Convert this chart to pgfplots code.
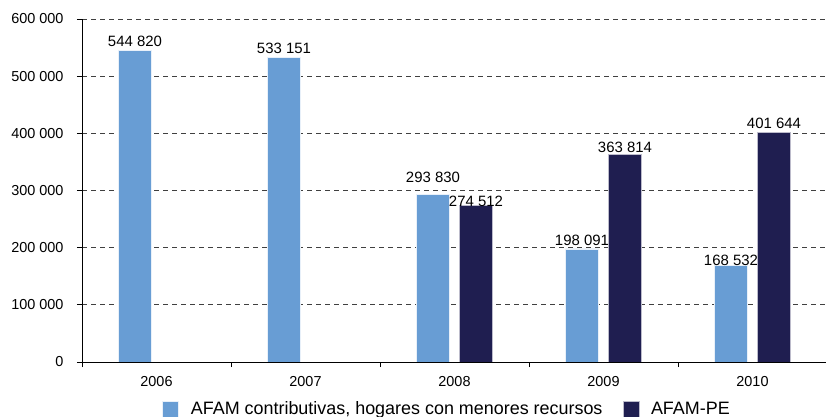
\documentclass[border=0pt]{standalone}
\usepackage{fontspec}
\setmainfont{Liberation Sans}
\usepackage{pgfplots}
\pgfplotsset{compat=1.18}
\usepackage{pgfplotstable}
\definecolor{afamc}{HTML}{689DD4}
\definecolor{afampe}{HTML}{1F1E50}

% x = category index (2006..2010), dy = nudge of the value label
\pgfplotstableread{
x y dy
0 544820 0
1 533151 0
2 293830 7.5
3 198091 -0.5
4 168532 -3.8
}\contrib
\pgfplotstableread{
x y dy
2 274512 -5.5
3 363814 -2
4 401644 0.5
}\afampe

\begin{document}
\begin{tikzpicture}
\path[use as bounding box] (0,0) rectangle (826bp,417bp);
\begin{axis}[
  at={(82bp,55bp)}, anchor=south west,
  scale only axis, width=745bp, height=343bp,
  xmin=-0.5, xmax=4.5, ymin=0, ymax=600000,
  ybar=10bp, bar width=33bp,
  axis x line=bottom, axis y line=left,
  axis line style={-, line width=1bp},
  tick align=outside, major tick length=5bp,
  tick style={black, line width=0.8bp},
  xtick={0,...,4}, xticklabels={2006,2007,2008,2009,2010},
  xtick style={draw=none},
  xticklabel style={yshift=-6bp},
  extra x ticks={-0.5,0.5,1.5,2.5,3.5,4.5}, extra x tick labels={},
  extra x tick style={xtick style={draw=black}},
  ytick={0,100000,...,600000},
  yticklabel style={xshift=-10bp},
  scaled y ticks=false,
  ymajorgrids, major grid style={black!75, line width=0.8bp, dash pattern=on 5bp off 4bp},
  tick label style={font=\fontsize{14.5}{17}\selectfont},
  /pgf/number format/.cd, fixed, precision=0, 1000 sep={\ }, assume math mode=true,
  /pgfplots/.cd,
  nodes near coords,
  visualization depends on={\thisrow{dy} \as \dy},
  every node near coord/.append style={font=\fontsize{15}{17}\selectfont, yshift=\dy bp},
  legend columns=2,
  legend style={at={(0.49,-0.137)}, anchor=center, draw=none, fill=none,
    font=\fontsize{18}{20}\selectfont,
    /tikz/every odd column/.append style={column sep=10bp},
    /tikz/every even column/.append style={column sep=18bp}},
  legend image code/.code={\fill[#1] (0bp,-8bp) rectangle (16bp,8bp);},
]
\addplot[fill=afamc, draw=white!85!afamc, line width=0.5bp] table[x=x, y=y] {\contrib};
\addlegendentry{AFAM contributivas, hogares con menores recursos}
\addplot[fill=afampe, draw=white!70!afampe, line width=0.5bp] table[x=x, y=y] {\afampe};
\addlegendentry{AFAM-PE}
\end{axis}
\end{tikzpicture}
\end{document}
